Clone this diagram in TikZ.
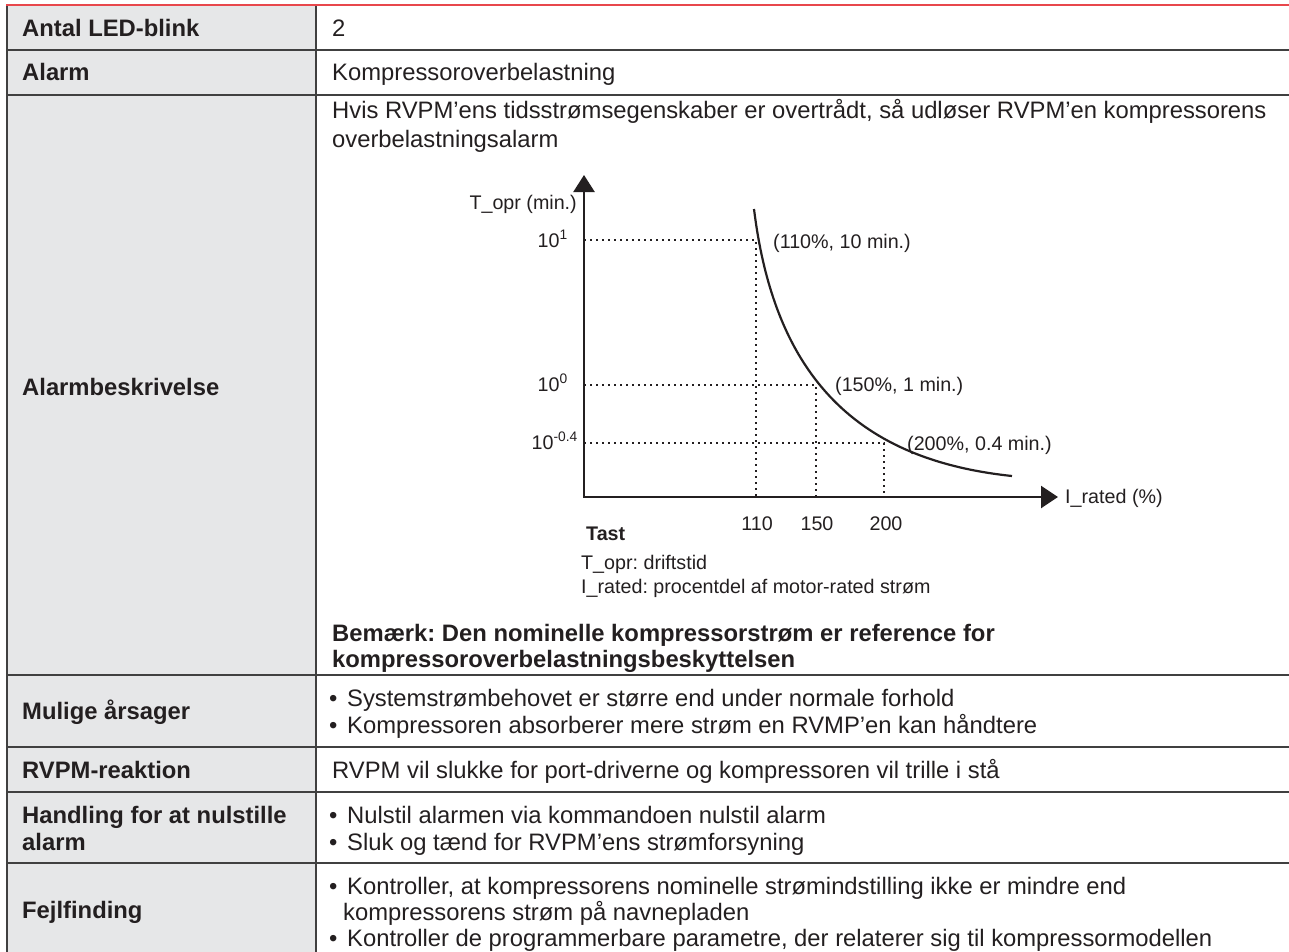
\documentclass[tikz,border=0pt]{standalone}
\usepackage{fontspec}
\setmainfont{Liberation Sans}
\usetikzlibrary{arrows.meta}
\definecolor{txt}{HTML}{231F20}
\definecolor{cellgray}{HTML}{E6E7E8}
\definecolor{rulegray}{HTML}{404040}
\definecolor{topred}{HTML}{E8474C}
\frenchspacing
\tikzset{
  tbl/.style={font=\fontsize{23.8}{28.5}\selectfont, text=txt, inner sep=0pt, anchor=base west},
  tblb/.style={font=\fontsize{23.8}{28.5}\selectfont\bfseries, text=txt, inner sep=0pt, anchor=base west},
  grf/.style={font=\fontsize{19.7}{23}\selectfont, text=txt, inner sep=0pt},
  grfb/.style={font=\fontsize{19.7}{23}\selectfont\bfseries, text=txt, inner sep=0pt},
  gridline/.style={draw=rulegray, line width=1.5pt},
  dotline/.style={draw=txt, line width=2.5pt, dash pattern=on 2.4pt off 3.6pt},
  axisline/.style={draw=txt, line width=2.5pt},
  curveline/.style={draw=txt, line width=2.2pt},
}
\begin{document}
\begin{tikzpicture}[x=1pt,y=-1pt]
\useasboundingbox (0,0) rectangle (1289,952);
% left column fill
\fill[cellgray] (7,6) rectangle (316,952);
% grid
\foreach \yy in {50,95,675,747,792,863}{\draw[gridline] (7,\yy) -- (1289,\yy);}
\draw[gridline] (7,6) -- (7,952);
\draw[gridline] (316,6) -- (316,952);
\draw[draw=topred, line width=2pt] (6,5.5) -- (1289,5.5);

% left column labels
\node[tblb] (l1) at (22,36.5) {Antal LED-blink};
\node[tblb] (l2) at (22,81) {Alarm};
\node[tblb] (l3) at (22,395) {Alarmbeskrivelse};
\node[tblb] (l4) at (22,719.5) {Mulige årsager};
\node[tblb] (l5) at (22,778) {RVPM-reaktion};
\node[tblb] (l6a) at (22,823.5) {Handling for at nulstille};
\node[tblb] (l6b) at (22,850.5) {alarm};
\node[tblb] (l7) at (22,918.5) {Fejlfinding};

% right column
\node[tbl] (r1) at (332,36.5) {2};
\node[tbl] (r2) at (332,81) {Kompressoroverbelastning};
\node[tbl] (r3a) at (332,119) {Hvis RVPM’ens tidsstrømsegenskaber er overtrådt, så udløser RVPM’en kompressorens};
\node[tbl] (r3b) at (332,147.5) {overbelastningsalarm};
\node[tblb] (r3c) at (332,641) {Bemærk: Den nominelle kompressorstrøm er reference for};
\node[tblb] (r3d) at (332,667) {kompressoroverbelastningsbeskyttelsen};

\node[tbl] (b4a) at (329,706) {•};
\node[tbl] (r4a) at (347,706) {Systemstrømbehovet er større end under normale forhold};
\node[tbl] (b4b) at (329,733) {•};
\node[tbl] (r4b) at (347,733) {Kompressoren absorberer mere strøm en RVMP’en kan håndtere};
\node[tbl] (r5) at (332,778) {RVPM vil slukke for port-driverne og kompressoren vil trille i stå};
\node[tbl] (b6a) at (329,823.5) {•};
\node[tbl] (r6a) at (347,823.5) {Nulstil alarmen via kommandoen nulstil alarm};
\node[tbl] (b6b) at (329,850.5) {•};
\node[tbl] (r6b) at (347,850.5) {Sluk og tænd for RVPM’ens strømforsyning};
\node[tbl] (b7a) at (329,894) {•};
\node[tbl] (r7a) at (347,894) {Kontroller, at kompressorens nominelle strømindstilling ikke er mindre end};
\node[tbl] (r7b) at (343,920) {kompressorens strøm på navnepladen};
\node[tbl] (b7c) at (329,946) {•};
\node[tbl] (r7c) at (347,946) {Kontroller de programmerbare parametre, der relaterer sig til kompressormodellen};

% graph
\coordinate (o) at (584,497);
\coordinate (ytip) at (584,175);
\coordinate (xtip) at (1058,497);
\coordinate (p1) at (756,240);
\coordinate (p2) at (816,385);
\coordinate (p3) at (884,443);
\coordinate (cs) at (754,209);
\coordinate (ce) at (1012,476);

\draw[dotline] (o |- p1) -- (p1) -- (p1 |- o);
\draw[dotline] (o |- p2) -- (p2) -- (p2 |- o);
\draw[dotline] (o |- p3) -- (p3) -- (p3 |- o);

\draw[axisline, {Triangle[width=21pt,length=17pt]}-{Triangle[width=22pt,length=17pt]}] (ytip) -- (o) -- (xtip);

\draw[curveline] (cs) .. controls (775,380) and (860,460) .. (ce);

\node[grf, anchor=base east] (ylab) at (577,209) {T\_opr (min.)};
\node[grf, anchor=base east] (y1) at (568,247) {10\textsuperscript{1}};
\node[grf, anchor=base east] (y0) at (568,391) {10\textsuperscript{0}};
\node[grf, anchor=base east] (y04) at (578,449) {10\textsuperscript{-0.4}};
\node[grf, anchor=base west] (c1) at (773,248) {(110\%, 10 min.)};
\node[grf, anchor=base west] (c2) at (835,391) {(150\%, 1 min.)};
\node[grf, anchor=base west] (c3) at (907,450) {(200\%, 0.4 min.)};
\node[grf, anchor=base west] (xlab) at (1065,503) {I\_rated (\%)};
\node[grf, anchor=base] (x110) at (757,530) {110};
\node[grf, anchor=base] (x150) at (817,530) {150};
\node[grf, anchor=base] (x200) at (886,530) {200};
\node[grfb, anchor=base west] (tast) at (586,540) {Tast};
\node[grf, anchor=base west] (leg1) at (581,569) {T\_opr: driftstid};
\node[grf, anchor=base west] (leg2) at (581,593) {I\_rated: procentdel af motor-rated strøm};
\end{tikzpicture}
\end{document}
